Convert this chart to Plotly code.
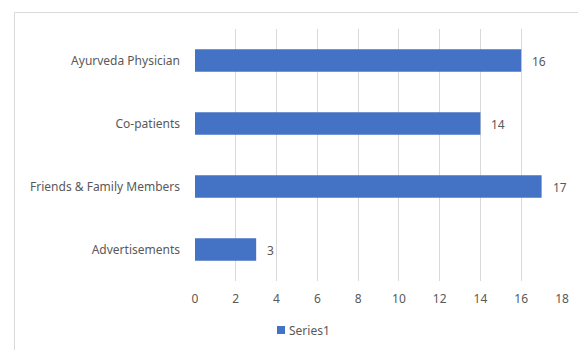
import plotly.graph_objects as go

# Source of information reported by respondents
categories = ["Ayurveda Physician", "Co-patients", "Friends & Family Members", "Advertisements"]
values = [16, 14, 17, 3]
series_name = "Series1"
x_ticks = [0, 2, 4, 6, 8, 10, 12, 14, 16, 18]

W, H = 578, 350
L, R, T, B = 195, 16, 29, 69
plot_w = W - L - R
plot_h = H - T - B

bar_color = "#4472C4"
text_color = "#595959"
grid_color = "#D9D9D9"
font_family = "Noto Sans"
font_size = 12

fig = go.Figure()
fig.add_trace(go.Bar(
    y=categories,
    x=values,
    orientation="h",
    name=series_name,
    marker=dict(color=bar_color, line=dict(width=0)),
    showlegend=False,
))

# Value labels placed just right of each bar end
for cat, val in zip(categories, values):
    fig.add_annotation(
        x=val, y=cat, xref="x", yref="y",
        text=str(val), showarrow=False,
        xanchor="left", xshift=9, yshift=-1,
        font=dict(family=font_family, size=font_size, color=text_color),
    )


def px_x(p):
    return (p - L) / plot_w


def px_y(p):
    return (H - B - p) / plot_h


# Chart-area border
fig.add_shape(
    type="rect", xref="paper", yref="paper",
    x0=px_x(14.5), x1=px_x(590), y0=px_y(420), y1=px_y(12.5),
    line=dict(color=grid_color, width=1), fillcolor="rgba(0,0,0,0)",
    layer="below",
)

# Series key below the axis
fig.add_shape(
    type="rect", xref="paper", yref="paper",
    x0=px_x(277), x1=px_x(285), y0=px_y(334), y1=px_y(326),
    line=dict(width=0), fillcolor=bar_color,
)
fig.add_annotation(
    x=px_x(287), y=px_y(330), xref="paper", yref="paper",
    text=series_name, showarrow=False, xanchor="left", yanchor="middle",
    font=dict(family=font_family, size=font_size, color=text_color),
)

fig.update_layout(
    width=W, height=H,
    margin=dict(l=L, r=R, t=T, b=B, pad=0, autoexpand=False),
    paper_bgcolor="white", plot_bgcolor="white",
    bargap=0.64,
    showlegend=False,
    font=dict(family=font_family, size=font_size, color=text_color),
    xaxis=dict(
        range=[0, 18], tickvals=x_ticks, showgrid=True, gridcolor=grid_color,
        gridwidth=1, zeroline=False, showline=False, ticks="",
        ticklabelstandoff=9,
        tickfont=dict(family=font_family, size=font_size, color=text_color),
        fixedrange=True,
    ),
    yaxis=dict(
        categoryorder="array", categoryarray=categories, autorange="reversed",
        showgrid=False, zeroline=False, showline=False, ticks="",
        ticklabelstandoff=14,
        tickfont=dict(family=font_family, size=font_size, color=text_color),
        fixedrange=True,
    ),
)

fig.write_html("out.html")
